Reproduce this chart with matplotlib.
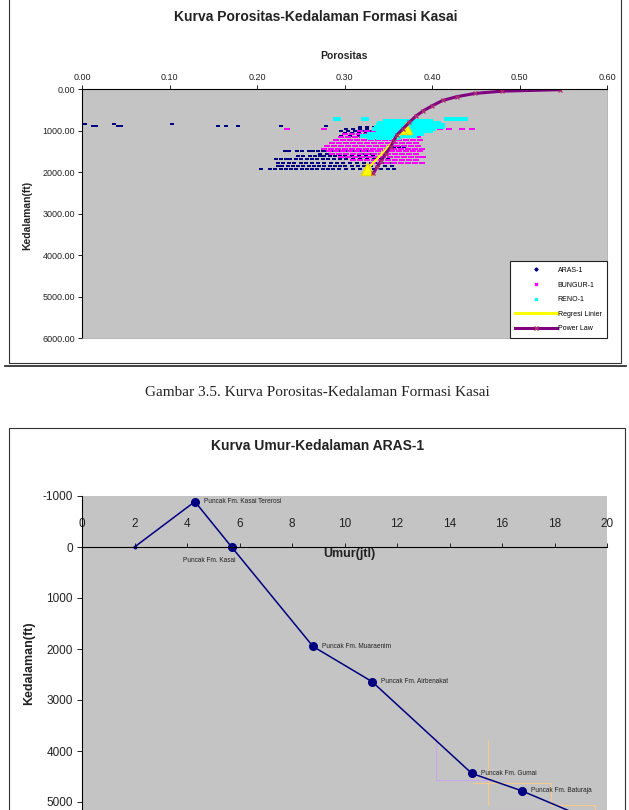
import matplotlib
matplotlib.use('Agg')
from matplotlib import pyplot as plt
from matplotlib.patches import Rectangle
from matplotlib.lines import Line2D
from matplotlib.ticker import FormatStrFormatter

plt.rcParams['font.family'] = ['Liberation Sans', 'DejaVu Sans']
plt.rcParams['axes.unicode_minus'] = False

W, H = 629, 810


def fx(x):
    return x / W


def fy(y):
    return 1 - y / H


# ---------------- data: porositas vs kedalaman ----------------
# (kedalaman ft, [porositas ...]) per sampled row
aras_rows = [
    (845, [0.003, 0.036, 0.103]),
    (885, [0.013, 0.016, 0.041, 0.044, 0.155, 0.164, 0.178, 0.227, 0.279]),
    (900, [0.318, 0.326, 0.334, 0.342, 0.350]),
    (950, [0.302, 0.310, 0.318, 0.326, 0.334, 0.342, 0.350, 0.356]),
    (1000, [0.296, 0.304, 0.312, 0.320, 0.328, 0.336, 0.344]),
    (1060, [0.300, 0.308, 0.316, 0.324, 0.332]),
    (1130, [0.296, 0.306, 0.316]),
    (1400, [0.356, 0.362, 0.368]),
    (1490, [0.232, 0.237, 0.246, 0.251, 0.259, 0.264, 0.270, 0.275, 0.280, 0.285,
            0.290, 0.295, 0.300, 0.306, 0.312, 0.320, 0.328]),
    (1560, [0.272, 0.280, 0.287, 0.294, 0.302, 0.310, 0.320, 0.330]),
    (1610, [0.247, 0.252, 0.261, 0.266, 0.272, 0.277, 0.283, 0.289, 0.295, 0.301,
            0.308, 0.316, 0.324, 0.332]),
    (1690, [0.222, 0.227, 0.233, 0.238, 0.245, 0.250, 0.257, 0.263, 0.269, 0.275,
            0.281, 0.288, 0.295, 0.302, 0.310, 0.318, 0.326, 0.334, 0.342, 0.350]),
    (1780, [0.224, 0.230, 0.236, 0.242, 0.250, 0.256, 0.263, 0.270, 0.277, 0.284,
            0.291, 0.298, 0.306, 0.314, 0.322, 0.330, 0.338, 0.346, 0.354]),
    (1860, [0.224, 0.229, 0.235, 0.241, 0.247, 0.253, 0.259, 0.265, 0.271, 0.277,
            0.283, 0.289, 0.295, 0.301, 0.308, 0.315, 0.322, 0.330, 0.338, 0.346, 0.354]),
    (1930, [0.205, 0.215, 0.221, 0.227, 0.233, 0.239, 0.245, 0.251, 0.257, 0.263,
            0.269, 0.275, 0.281, 0.287, 0.294, 0.302, 0.310, 0.318, 0.326, 0.334,
            0.342, 0.350, 0.356]),
]

bungur_rows = [
    (960, [0.234, 0.277, 0.382, 0.390, 0.398, 0.409, 0.419, 0.434, 0.446]),
    (1010, [0.318, 0.326, 0.334, 0.342, 0.350, 0.358, 0.366, 0.374]),
    (1080, [0.300, 0.308, 0.316, 0.324, 0.332, 0.340, 0.348, 0.356, 0.364, 0.372, 0.380]),
    (1150, [0.296, 0.304, 0.312, 0.320, 0.328, 0.336, 0.344, 0.352, 0.360, 0.368, 0.376, 0.384]),
    (1220, [0.290, 0.298, 0.306, 0.314, 0.322, 0.330, 0.338, 0.346, 0.354, 0.362, 0.370,
            0.378, 0.386]),
    (1290, [0.286, 0.294, 0.302, 0.310, 0.318, 0.326, 0.334, 0.342, 0.350, 0.358, 0.366,
            0.374, 0.382]),
    (1360, [0.280, 0.288, 0.296, 0.304, 0.312, 0.320, 0.328, 0.336, 0.344, 0.352, 0.360,
            0.368, 0.376, 0.384]),
    (1430, [0.276, 0.284, 0.292, 0.300, 0.308, 0.316, 0.324, 0.332, 0.340, 0.348, 0.356,
            0.364, 0.372, 0.380, 0.388]),
    (1500, [0.282, 0.290, 0.298, 0.306, 0.314, 0.322, 0.330, 0.338, 0.346, 0.354, 0.362,
            0.370, 0.378, 0.386]),
    (1570, [0.286, 0.294, 0.302, 0.310, 0.318, 0.326, 0.334, 0.342, 0.350, 0.358, 0.366,
            0.374, 0.382]),
    (1640, [0.296, 0.304, 0.312, 0.320, 0.328, 0.336, 0.344, 0.352, 0.360, 0.368, 0.376,
            0.384, 0.390]),
    (1710, [0.310, 0.318, 0.326, 0.334, 0.342, 0.350, 0.358, 0.366, 0.374, 0.382]),
    (1780, [0.332, 0.340, 0.348, 0.356, 0.364, 0.372, 0.380, 0.388]),
]

reno_rows = [
    (720, [0.291, 0.323, 0.418, 0.426, 0.432, 0.436]),
    (760, [0.348, 0.356, 0.364, 0.372, 0.380, 0.388, 0.396]),
    (810, [0.342, 0.350, 0.358, 0.366, 0.374, 0.382, 0.390, 0.398, 0.406]),
    (860, [0.340, 0.348, 0.356, 0.364, 0.372, 0.380, 0.388, 0.396, 0.404, 0.410]),
    (910, [0.338, 0.346, 0.354, 0.362, 0.370, 0.378, 0.386, 0.394, 0.402, 0.410]),
    (960, [0.336, 0.344, 0.352, 0.360, 0.368, 0.376, 0.384, 0.392, 0.400]),
    (1010, [0.340, 0.348, 0.356, 0.364, 0.372, 0.380, 0.388, 0.396]),
    (1070, [0.330, 0.338, 0.346, 0.354, 0.362, 0.370, 0.378, 0.386]),
    (1130, [0.322, 0.330, 0.338, 0.346, 0.354, 0.362, 0.370, 0.378]),
    (1180, [0.330, 0.340, 0.350, 0.360]),
]

reg_por = [0.326, 0.370]
reg_depth = [1930, 930]

pl_por = [0.333, 0.337, 0.342, 0.347, 0.353, 0.356, 0.360, 0.367, 0.374, 0.382,
          0.390, 0.400, 0.412, 0.428, 0.449, 0.480, 0.546]
pl_depth = [2030, 1880, 1720, 1560, 1380, 1250, 1100, 950, 800, 640,
            520, 400, 270, 180, 100, 45, 10]

# ---------------- data: umur vs kedalaman ----------------
umur = [2.0, 4.3, 5.7, 8.8, 11.05, 14.85, 16.75, 19.6]
kedalaman = [0, -890, 0, 1950, 2640, 4440, 4780, 5400]
umur_labels = ['', 'Puncak Fm. Kasai Tererosi', 'Puncak Fm. Kasai', 'Puncak Fm. Muaraenim',
               'Puncak Fm. Airbenakat', 'Puncak Fm. Gumai', 'Puncak Fm. Baturaja', '']

orange_x = [15.45, 15.45, None, 14.9, 17.85, 17.85, 19.55, 19.55]
orange_y = [3780, 5060, None, 4630, 4630, 5060, 5060, 5400]
lilac_x = [13.47, 13.47, 15.45, None, 15.45, 17.85]
lilac_y = [3750, 4560, 4560, None, 5160, 5160]


def flatten(rows):
    xs, ys = [], []
    for d, vals in rows:
        xs += vals
        ys += [d] * len(vals)
    return xs, ys


def dash(h):
    # flat marker so the sampled rows read as short streaks like the scan
    return [(-1, -h), (1, -h), (1, h), (-1, h), (-1, -h)]


fig = plt.figure(figsize=(6.29, 8.10), dpi=100)

# page frames
fig.add_artist(Rectangle((fx(9), fy(363)), fx(621) - fx(9), fy(-5) - fy(363),
                         fill=False, lw=0.8, ec='#333333', transform=fig.transFigure))
fig.add_artist(Line2D([fx(5), fx(626)], [fy(366.5)] * 2, lw=1.3, color='#333333',
                      transform=fig.transFigure))
fig.add_artist(Rectangle((fx(9), fy(830)), fx(625) - fx(9), fy(428) - fy(830),
                         fill=False, lw=0.8, ec='#333333', transform=fig.transFigure))

fig.text(fx(316), fy(17), 'Kurva Porositas-Kedalaman Formasi Kasai', ha='center',
         va='center', fontsize=10, fontweight='bold', color='#222222')
fig.text(fx(344), fy(56), 'Porositas', ha='center', va='center', fontsize=7.5,
         fontweight='bold', color='#222222')
fig.text(fx(27), fy(215), 'Kedalaman(ft)', ha='center', va='center', rotation=90,
         fontsize=7.5, fontweight='bold', color='#222222')
fig.text(fx(317), fy(393), 'Gambar 3.5. Kurva Porositas-Kedalaman Formasi Kasai',
         ha='center', va='center', fontsize=11, family='Liberation Serif', color='#222222')

# ---------------- top chart ----------------
ax1 = fig.add_axes([fx(82), fy(338), fx(607) - fx(82), (338 - 89.3) / H])
ax1.set_facecolor('#c4c4c4')
ax1.set_xlim(0, 0.6)
ax1.set_ylim(6000, 0)
ax1.xaxis.tick_top()
ax1.set_xticks([0.0, 0.1, 0.2, 0.3, 0.4, 0.5, 0.6])
ax1.set_yticks([0, 1000, 2000, 3000, 4000, 5000, 6000])
ax1.xaxis.set_major_formatter(FormatStrFormatter('%.2f'))
ax1.yaxis.set_major_formatter(FormatStrFormatter('%.2f'))
ax1.tick_params(labelsize=6.5, length=3, width=0.7, colors='#222222', pad=2)
for s in ['right', 'bottom']:
    ax1.spines[s].set_color('#999999')
    ax1.spines[s].set_linewidth(0.5)
for s in ['top', 'left']:
    ax1.spines[s].set_linewidth(0.8)

x, y = flatten(aras_rows)
ax1.plot(x, y, ls='none', marker=dash(0.45), ms=3.0, color='#000080', mew=0)
x, y = flatten(bungur_rows)
ax1.plot(x, y, ls='none', marker=dash(0.4), ms=4.3, color='#ff00ff', mew=0)
x, y = flatten(reno_rows)
ax1.plot(x, y, ls='none', marker=dash(0.5), ms=5.2, color='#00ffff', mew=0)
ax1.plot(reg_por, reg_depth, color='#ffff00', lw=1.5, marker='^', ms=8, mec='#e8e000')
ax1.plot(pl_por, pl_depth, color='#800080', lw=2.2, marker='x', ms=3.5, mew=0.9,
         mec='#b03070')

handles = [
    Line2D([], [], ls='none', marker='D', ms=1.6, color='#000080'),
    Line2D([], [], ls='none', marker='s', ms=1.6, color='#ff00ff'),
    Line2D([], [], ls='none', marker='s', ms=2.0, color='#00ffff'),
    Line2D([], [], color='#ffff00', lw=2.2),
    Line2D([], [], color='#800080', lw=2.2, marker='x', ms=3, mec='#b03070'),
]
leg = ax1.legend(handles, ['ARAS-1', 'BUNGUR-1', 'RENO-1', 'Regresi Linier', 'Power Law'],
                 loc='lower right', bbox_to_anchor=(1, 0), borderaxespad=0, fontsize=5,
                 fancybox=False, edgecolor='#222222', framealpha=1, handlelength=6,
                 handletextpad=0.1, labelspacing=1.1, borderpad=0.8)
leg.get_frame().set_linewidth(0.8)

# ---------------- bottom chart ----------------
fig.text(fx(318), fy(446), 'Kurva Umur-Kedalaman ARAS-1', ha='center', va='center',
         fontsize=10, fontweight='bold', color='#222222')
fig.text(fx(29), fy(663), 'Kedalaman(ft)', ha='center', va='center', rotation=90,
         fontsize=9, fontweight='bold', color='#222222')

ax2 = fig.add_axes([fx(82), fy(853), fx(607) - fx(82), (853 - 496) / H])
ax2.set_facecolor('#c4c4c4')
ax2.set_xlim(0, 20)
ax2.set_ylim(6000, -1000)
ax2.set_xticks([0, 2, 4, 6, 8, 10, 12, 14, 16, 18, 20])
ax2.set_yticks([-1000, 0, 1000, 2000, 3000, 4000, 5000, 6000])
ax2.spines['top'].set_position(('data', 0))
ax2.xaxis.tick_top()
ax2.spines['bottom'].set_visible(False)
ax2.spines['right'].set_visible(False)
ax2.spines['left'].set_linewidth(0.8)
ax2.spines['top'].set_linewidth(0.8)
ax2.tick_params(axis='x', labelsize=8.5, length=3, width=0.7, colors='#222222', pad=9)
ax2.tick_params(axis='y', labelsize=8.5, length=3.5, width=0.7, colors='#222222', pad=3)
ax2.annotate('Umur(jtl)', xy=(0.51, 0), xycoords=('axes fraction', 'data'),
             xytext=(0, -1), textcoords='offset points', ha='center', va='top',
             fontsize=9, fontweight='bold', color='#222222')

ax2.plot(orange_x, orange_y, color='#f5c890', lw=0.8)
ax2.plot(lilac_x, lilac_y, color='#c8a8e8', lw=0.8)
ax2.plot(umur, kedalaman, color='#000080', lw=1.1)
ax2.plot(umur[1:], kedalaman[1:], ls='none', marker='o', ms=5.5, color='#000080')
ax2.plot(umur[:1], kedalaman[:1], ls='none', marker='o', ms=1.8, color='#000080')

for i, lab in enumerate(umur_labels):
    if not lab:
        continue
    if lab == 'Puncak Fm. Kasai':
        off, ha, va = (-16, -10), 'center', 'center'
    else:
        off, ha, va = (6.5, 0), 'left', 'center'
    ax2.annotate(lab, xy=(umur[i], kedalaman[i]), xytext=off, textcoords='offset points',
                 ha=ha, va=va, fontsize=4.7, color='#222222')

fig.savefig('out.png', dpi=100)
